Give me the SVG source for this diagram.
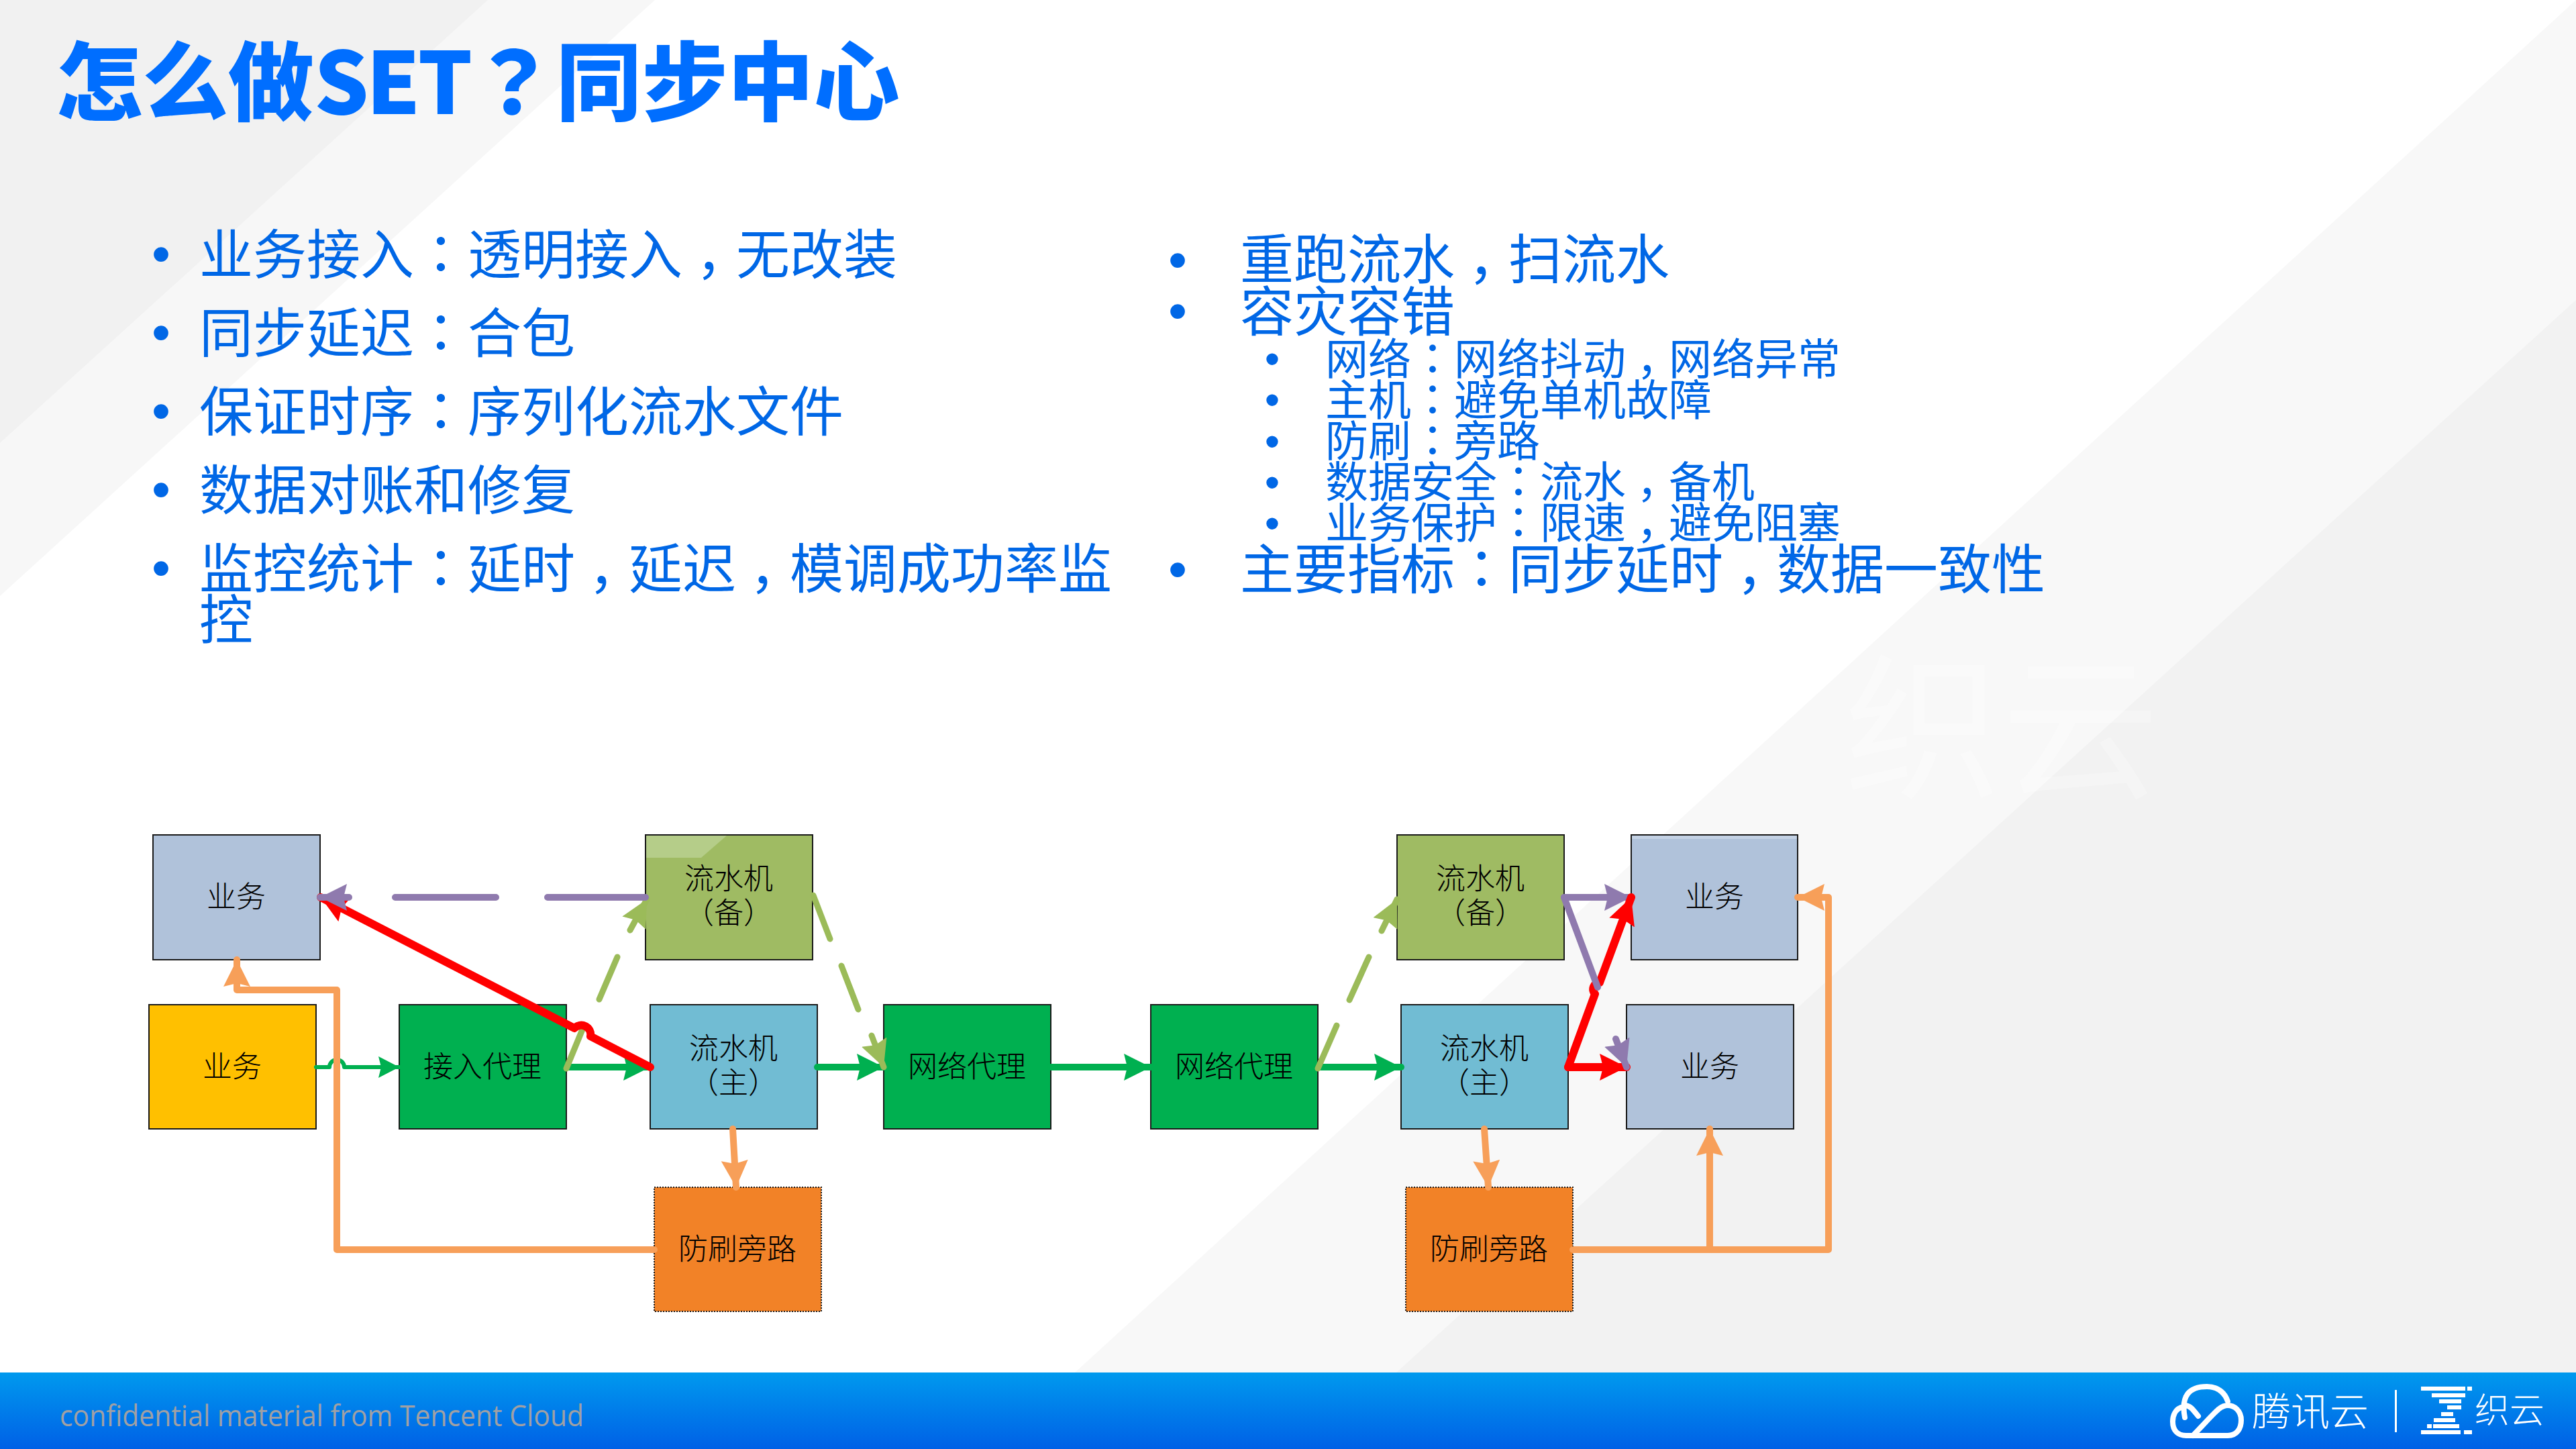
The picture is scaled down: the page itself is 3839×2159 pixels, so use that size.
<svg xmlns="http://www.w3.org/2000/svg" width="3839" height="2159" viewBox="0 0 3839 2159">
<defs>
<linearGradient id="band" x1="0" y1="0" x2="0" y2="1"><stop offset="0" stop-color="#0099EE"/><stop offset="1" stop-color="#0060E6"/></linearGradient>
<marker id="mGreenS" markerUnits="userSpaceOnUse" markerWidth="34" markerHeight="34" refX="31" refY="16" orient="auto"><path d="M0 0L31 16L0 32L4 16Z" fill="#00B050"/></marker>
<marker id="mGreen" markerUnits="userSpaceOnUse" markerWidth="46" markerHeight="44" refX="40" refY="20" orient="auto"><path d="M0 0L40 20L0 40L5 20Z" fill="#00B050"/></marker>
<marker id="mLight" markerUnits="userSpaceOnUse" markerWidth="46" markerHeight="44" refX="40" refY="20" orient="auto"><path d="M0 0L40 20L0 40L5 20Z" fill="#9BBB59"/></marker>
<marker id="mPurple" markerUnits="userSpaceOnUse" markerWidth="46" markerHeight="44" refX="40" refY="20" orient="auto"><path d="M0 0L40 20L0 40L5 20Z" fill="#8F7AAE"/></marker>
<marker id="mRed" markerUnits="userSpaceOnUse" markerWidth="46" markerHeight="44" refX="40" refY="20" orient="auto"><path d="M0 0L40 20L0 40L5 20Z" fill="#FF0000"/></marker>
<marker id="mOrange" markerUnits="userSpaceOnUse" markerWidth="46" markerHeight="44" refX="40" refY="20" orient="auto"><path d="M0 0L40 20L0 40L5 20Z" fill="#F79F59"/></marker>
</defs>
<style>
text{font-family:"Noto Sans CJK SC","Noto Sans",sans-serif}
.title{font-size:128px;font-weight:900;fill:#006EFF}
.l1{font-size:80px;fill:#0067E6}
.l2{font-size:64px;fill:#0067E6}
.p{font-family:"Noto Sans CJK TC","Noto Sans",sans-serif}
.b1{font-family:"Liberation Sans",sans-serif;font-size:80px;fill:#0067E6;text-anchor:middle}
.b2{font-family:"Liberation Sans",sans-serif;font-size:64px;fill:#0067E6;text-anchor:middle}
.n rect{stroke:#1a1a1a;stroke-width:2}
.n rect.dot{stroke-dasharray:2 2}
.n text{font-size:44px;font-weight:300;fill:#000;text-anchor:middle;font-family:"Liberation Serif","Noto Sans CJK SC",serif}
.c{fill:none;stroke-linecap:round;stroke-linejoin:round}
.g{stroke:#00B050;stroke-width:10}
.lg{stroke:#9BBB59;stroke-width:9}
.pu{stroke:#8F7AAE;stroke-width:10}
.r{stroke:#FF0000;stroke-width:12}
.o{stroke:#F79F59;stroke-width:10}
.logo{fill:#fff;font-weight:300}
</style>
<rect width="3839" height="2159" fill="#FFFFFF"/>
<polygon points="0,0 976,0 0,888" fill="#F7F7F7"/>
<polygon points="0,0 727,0 0,660" fill="#F1F1F1"/>
<polygon points="3839,0 1602,2045 3839,2045" fill="#F8F8F8"/>
<polygon points="3839,447 2081,2045 3839,2045" fill="#F2F2F2"/>
<text x="2748" y="1172" font-size="235" fill="#FFFFFF" fill-opacity="0.25">织云</text>
<text class="title" x="84" y="170">怎么做<tspan letter-spacing="-4">SET</tspan><tspan class="p">？</tspan>同步中心</text>
<g id="list-left">
<text class="b1" x="240" y="406">•</text><text class="l1" x="297" y="408">业务接入<tspan class="p">：</tspan>透明接入<tspan dx="20">，</tspan><tspan dx="-20">无改装</tspan></text>
<text class="b1" x="240" y="523">•</text><text class="l1" x="297" y="525">同步延迟<tspan class="p">：</tspan>合包</text>
<text class="b1" x="240" y="640">•</text><text class="l1" x="297" y="642">保证时序<tspan class="p">：</tspan>序列化流水文件</text>
<text class="b1" x="240" y="757">•</text><text class="l1" x="297" y="759">数据对账和修复</text>
<text class="b1" x="240" y="874">•</text><text class="l1" x="297" y="876">监控统计<tspan class="p">：</tspan>延时<tspan dx="20">，</tspan><tspan dx="-20">延迟</tspan><tspan dx="20">，</tspan><tspan dx="-20">模调成功率监</tspan></text>
<text class="l1" x="297" y="952">控</text>
</g>
<g id="list-right">
<text class="b1" x="1755" y="415">•</text><text class="l1" x="1848" y="415">重跑流水<tspan dx="20">，</tspan><tspan dx="-20">扫流水</tspan></text>
<text class="b1" x="1755" y="491">•</text><text class="l1" x="1848" y="493">容灾容错</text>
<text class="b2" x="1896" y="557">•</text><text class="l2" x="1975" y="558">网络<tspan class="p">：</tspan>网络抖动<tspan dx="16">，</tspan><tspan dx="-16">网络异常</tspan></text>
<text class="b2" x="1896" y="618">•</text><text class="l2" x="1975" y="619">主机<tspan class="p">：</tspan>避免单机故障</text>
<text class="b2" x="1896" y="680">•</text><text class="l2" x="1975" y="680">防刷<tspan class="p">：</tspan>旁路</text>
<text class="b2" x="1896" y="741">•</text><text class="l2" x="1975" y="741">数据安全<tspan class="p">：</tspan>流水<tspan dx="16">，</tspan><tspan dx="-16">备机</tspan></text>
<text class="b2" x="1896" y="802">•</text><text class="l2" x="1975" y="802">业务保护<tspan class="p">：</tspan>限速<tspan dx="16">，</tspan><tspan dx="-16">避免阻塞</tspan></text>
<text class="b1" x="1755" y="876">•</text><text class="l1" x="1848" y="877">主要指标<tspan class="p">：</tspan>同步延时<tspan dx="20">，</tspan><tspan dx="-20">数据一致性</tspan></text>
</g>
<g id="biz-tl" class="n"><rect x="228" y="1244" width="249" height="186" fill="#B0C2DA"/><text x="352" y="1352">业务</text></g>
<g id="biz-src" class="n"><rect x="222" y="1497" width="249" height="185" fill="#FFC000"/><text x="346" y="1605">业务</text></g>
<g id="proxy-in" class="n"><rect x="595" y="1497" width="249" height="185" fill="#00B050"/><text x="719" y="1605">接入代理</text></g>
<g id="log-bak-l" class="n"><rect x="962" y="1244" width="249" height="186" fill="#9FBB63"/><polygon points="963,1245 1083,1245 1045,1278 963,1278" fill="#B5CD89"/><text x="1086" y="1325">流水机</text><text x="1086" y="1376">（备）</text></g>
<g id="log-main-l" class="n"><rect x="969" y="1497" width="249" height="185" fill="#71BCD3"/><text x="1093" y="1578">流水机</text><text x="1093" y="1629">（主）</text></g>
<g id="net-a" class="n"><rect x="1317" y="1497" width="249" height="185" fill="#00B050"/><text x="1441" y="1605">网络代理</text></g>
<g id="guard-l" class="n"><rect class="dot" x="975" y="1769" width="249" height="185" fill="#F28227"/><text x="1099" y="1877">防刷旁路</text></g>
<g id="net-b" class="n"><rect x="1715" y="1497" width="249" height="185" fill="#00B050"/><text x="1839" y="1605">网络代理</text></g>
<g id="log-bak-r" class="n"><rect x="2082" y="1244" width="249" height="186" fill="#9FBB63"/><text x="2206" y="1325">流水机</text><text x="2206" y="1376">（备）</text></g>
<g id="log-main-r" class="n"><rect x="2088" y="1497" width="249" height="185" fill="#71BCD3"/><text x="2212" y="1578">流水机</text><text x="2212" y="1629">（主）</text></g>
<g id="guard-r" class="n"><rect class="dot" x="2095" y="1769" width="249" height="185" fill="#F28227"/><text x="2219" y="1877">防刷旁路</text></g>
<g id="biz-tr" class="n"><rect x="2431" y="1244" width="248" height="186" fill="#B0C2DA"/><polygon points="2432,1245 2678,1245 2678,1250 2432,1250" fill="#C4D2E5"/><text x="2555" y="1352">业务</text></g>
<g id="biz-br" class="n"><rect x="2424" y="1497" width="249" height="185" fill="#B0C2DA"/><text x="2548" y="1605">业务</text></g>
<g id="connectors">
<path class="c g" style="stroke-width:6" d="M471 1590H491A11 11 0 0 1 513 1590H595" marker-end="url(#mGreenS)"/>
<path class="c g" d="M844 1590H969" marker-end="url(#mGreen)"/>
<path class="c g" d="M1218 1590H1317" marker-end="url(#mGreen)"/>
<path class="c g" d="M1566 1590H1715" marker-end="url(#mGreen)"/>
<path class="c g" d="M1964 1590H2088" marker-end="url(#mGreen)"/>
<path class="c lg" d="M844 1592L870 1529M893 1489L920 1426M939 1386L964 1340" marker-end="url(#mLight)"/>
<path class="c lg" d="M1212 1334L1237 1399M1254 1439L1279 1504M1299 1543L1317 1590" marker-end="url(#mLight)"/>
<path class="c lg" d="M1964 1592L1992 1528M2011 1490L2040 1426M2059 1387L2082 1340" marker-end="url(#mLight)"/>
<path class="c r" d="M969 1590L880 1544A14 14 0 0 0 856 1532L478 1337" marker-end="url(#mRed)"/>
<path class="c pu" d="M962 1337H816M739 1337H589M520 1337H477" marker-end="url(#mPurple)"/>
<path class="c pu" d="M2331 1337H2431" marker-end="url(#mPurple)"/>
<path class="c r" d="M2337 1590H2424" marker-end="url(#mRed)"/>
<path class="c r" d="M2337 1590L2377 1481A10 10 0 0 1 2384 1464L2431 1337" marker-end="url(#mRed)"/>
<path class="c pu" d="M2331 1337L2381 1471M2408 1548L2424 1590" marker-end="url(#mPurple)"/>
<path class="c o" d="M1092 1682L1097 1769" marker-end="url(#mOrange)"/>
<path class="c o" d="M2212 1682L2218 1769" marker-end="url(#mOrange)"/>
<path class="c o" d="M975 1862H502V1475H353V1430" marker-end="url(#mOrange)"/>
<path class="c o" d="M2344 1862H2725V1337H2679" marker-end="url(#mOrange)"/>
<path class="c o" d="M2548 1862V1682" marker-end="url(#mOrange)"/>
</g>
<rect y="2045" width="3839" height="114" fill="url(#band)"/>
<text x="89" y="2125" font-size="44" fill="#A0A0A4" textLength="781" lengthAdjust="spacingAndGlyphs" style="font-family:'Open Sans',sans-serif">confidential material from Tencent Cloud</text>
<g id="logo-tencent">
<path d="M3256 2112C3250 2080 3262 2066 3289 2066C3306 2066 3316 2076 3320 2088M3255 2096C3240 2098 3238 2112 3238 2118C3238 2132 3246 2139 3258 2139H3320C3334 2139 3340 2128 3340 2116C3340 2102 3330 2094 3320 2094C3308 2094 3302 2104 3268 2139M3276 2110C3268 2100 3264 2094 3256 2094" fill="none" stroke="#fff" stroke-width="8" stroke-linecap="round"/>
<text class="logo" x="3356" y="2124" font-size="58">腾讯云</text>
<rect x="3569" y="2071" width="3" height="63" fill="#fff"/>
</g>
<g id="logo-zhiyun" fill="#fff">
<rect x="3608" y="2066" width="66" height="6"/><rect x="3677" y="2066" width="7" height="6"/>
<rect x="3624" y="2076" width="50" height="6"/>
<rect x="3635" y="2085" width="33" height="6"/>
<rect x="3647" y="2094" width="21" height="6"/>
<rect x="3638" y="2104" width="18" height="6"/>
<rect x="3627" y="2113" width="32" height="6"/>
<rect x="3626" y="2122" width="39" height="6"/><rect x="3617" y="2122" width="7" height="6"/>
<rect x="3608" y="2131" width="59" height="6"/><rect x="3672" y="2131" width="12" height="6"/>
<text class="logo" x="3688" y="2120" font-size="52">织云</text>
</g>
</svg>
